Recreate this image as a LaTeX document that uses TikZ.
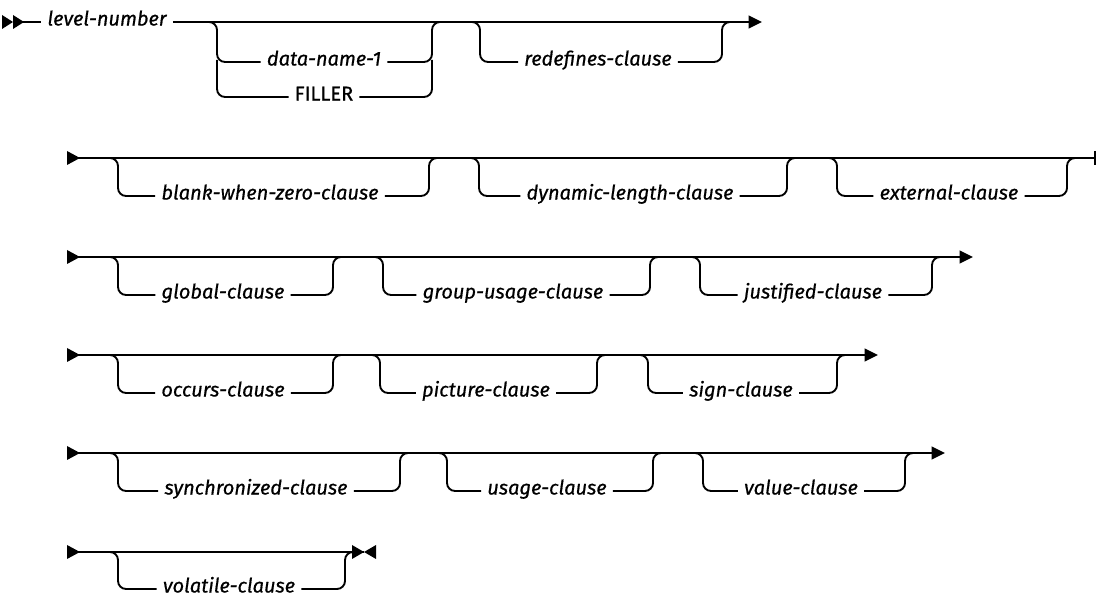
\documentclass[tikz,border=0pt]{standalone}
\usepackage{fontspec}
\setmainfont{Fira Sans}[FakeBold=0.6]
\usetikzlibrary{arrows.meta}
\usetikzlibrary{positioning}

\begin{document}
\begin{tikzpicture}[x=0.75pt, y=-0.75pt, line join=round,
    rail/.style={line width=1.4pt, rounded corners=6pt},
    term/.style={font=\fontsize{15}{17}\selectfont\itshape, anchor=mid, inner xsep=4.5pt, inner ysep=0pt},
    kw/.style={font=\fontsize{15}{17}\selectfont, anchor=mid, inner xsep=4.5pt, inner ysep=0pt},
    tip/.style={-{Triangle[length=10pt,width=9.5pt]}}]
    \useasboundingbox (0,0) rectangle (1097,598);

    % ---- row 1
    \fill (2,15) -- (13,22) -- (2,29) -- cycle;
    \fill (13,15) -- (24,22) -- (13,29) -- cycle;
    \node[term] (level) at (107,22) {level-number};
    \coordinate (end1) at (762,22);
    \draw[rail] (13,22) -- (level.mid west);
    \draw[rail,tip] (level.mid east) -- (end1);

    % data-name-1 / FILLER
    \node[term] (dname) at (324,62) {data-name-1};
    \node[kw] (filler) at (324,97) {FILLER};
    \draw[rail] (205,22) -- (217,22) -- (217,62) -- (dname.mid west);
    \draw[rail] (217,60) -- (217,97) -- (filler.mid west);
    \draw[rail] (dname.mid east) -- (432,62) -- (432,22) -- (444,22);
    \draw[rail] (filler.mid east) -- (432,97) -- (432,60);

    % redefines-clause
    \node[term] (redef) at (598,62) {redefines-clause};
    \draw[rail] (468,22) -- (480,22) -- (480,62) -- (redef.mid west);
    \draw[rail] (redef.mid east) -- (722,62) -- (722,22) -- (734,22);

    % ---- row 2
    \fill (67,151) -- (80,158) -- (67,165) -- cycle;
    \coordinate (start2) at (67,158);
    \coordinate (end2) at (1095,158);
    \draw[rail] (start2) -- (end2);
    \draw[line width=1.4pt] (1095,151) -- (1095,165);

    \node[term] (blank) at (270,196) {blank-when-zero-clause};
    \draw[rail] (106,158) -- (118,158) -- (118,196) -- (blank.mid west);
    \draw[rail] (blank.mid east) -- (429,196) -- (429,158) -- (441,158);

    \node[term] (dynlen) at (630,196) {dynamic-length-clause};
    \draw[rail] (467,158) -- (479,158) -- (479,196) -- (dynlen.mid west);
    \draw[rail] (dynlen.mid east) -- (787,196) -- (787,158) -- (799,158);

    \node[term] (extern) at (949,196) {external-clause};
    \draw[rail] (825,158) -- (837,158) -- (837,196) -- (extern.mid west);
    \draw[rail] (extern.mid east) -- (1067,196) -- (1067,158) -- (1079,158);

    % ---- row 3
    \fill (67,250) -- (80,257) -- (67,264) -- cycle;
    \coordinate (start3) at (67,257);
    \coordinate (end3) at (973,257);
    \draw[rail,tip] (start3) -- (end3);

    \node[term] (global) at (223,295) {global-clause};
    \draw[rail] (106,257) -- (118,257) -- (118,295) -- (global.mid west);
    \draw[rail] (global.mid east) -- (333,295) -- (333,257) -- (345,257);

    \node[term] (grpuse) at (513,295) {group-usage-clause};
    \draw[rail] (371,257) -- (383,257) -- (383,295) -- (grpuse.mid west);
    \draw[rail] (grpuse.mid east) -- (650,295) -- (650,257) -- (662,257);

    \node[term] (justif) at (813,295) {justified-clause};
    \draw[rail] (688,257) -- (700,257) -- (700,295) -- (justif.mid west);
    \draw[rail] (justif.mid east) -- (932,295) -- (932,257) -- (944,257);

    % ---- row 4
    \fill (67,348) -- (80,355) -- (67,362) -- cycle;
    \coordinate (start4) at (67,355);
    \coordinate (end4) at (878,355);
    \draw[rail,tip] (start4) -- (end4);

    \node[term] (occurs) at (223,393) {occurs-clause};
    \draw[rail] (106,355) -- (118,355) -- (118,393) -- (occurs.mid west);
    \draw[rail] (occurs.mid east) -- (333,393) -- (333,355) -- (345,355);

    \node[term] (pict) at (486,393) {picture-clause};
    \draw[rail] (368,355) -- (380,355) -- (380,393) -- (pict.mid west);
    \draw[rail] (pict.mid east) -- (597,393) -- (597,355) -- (609,355);

    \node[term] (sign) at (741,393) {sign-clause};
    \draw[rail] (636,355) -- (648,355) -- (648,393) -- (sign.mid west);
    \draw[rail] (sign.mid east) -- (837,393) -- (837,355) -- (849,355);

    % ---- row 5
    \fill (67,446) -- (80,453) -- (67,460) -- cycle;
    \coordinate (start5) at (67,453);
    \coordinate (end5) at (945,453);
    \draw[rail,tip] (start5) -- (end5);

    \node[term] (sync) at (256,491) {synchronized-clause};
    \draw[rail] (106,453) -- (118,453) -- (118,491) -- (sync.mid west);
    \draw[rail] (sync.mid east) -- (400,491) -- (400,453) -- (412,453);

    \node[term] (usage) at (547,491) {usage-clause};
    \draw[rail] (435,453) -- (447,453) -- (447,491) -- (usage.mid west);
    \draw[rail] (usage.mid east) -- (653,491) -- (653,453) -- (665,453);

    \node[term] (value) at (801,491) {value-clause};
    \draw[rail] (691,453) -- (703,453) -- (703,491) -- (value.mid west);
    \draw[rail] (value.mid east) -- (905,491) -- (905,453) -- (917,453);

    % ---- row 6
    \fill (67,545) -- (80,552) -- (67,559) -- cycle;
    \coordinate (start6) at (67,552);
    \coordinate (end6) at (364,552);
    \draw[rail] (start6) -- (end6);
    \fill (352,545) -- (364,552) -- (352,559) -- cycle;
    \fill (376,545) -- (364,552) -- (376,559) -- cycle;

    \node[term] (volat) at (229,589) {volatile-clause};
    \draw[rail] (106,552) -- (118,552) -- (118,589) -- (volat.mid west);
    \draw[rail] (volat.mid east) -- (345,589) -- (345,552) -- (357,552);
\end{tikzpicture}
\end{document}
